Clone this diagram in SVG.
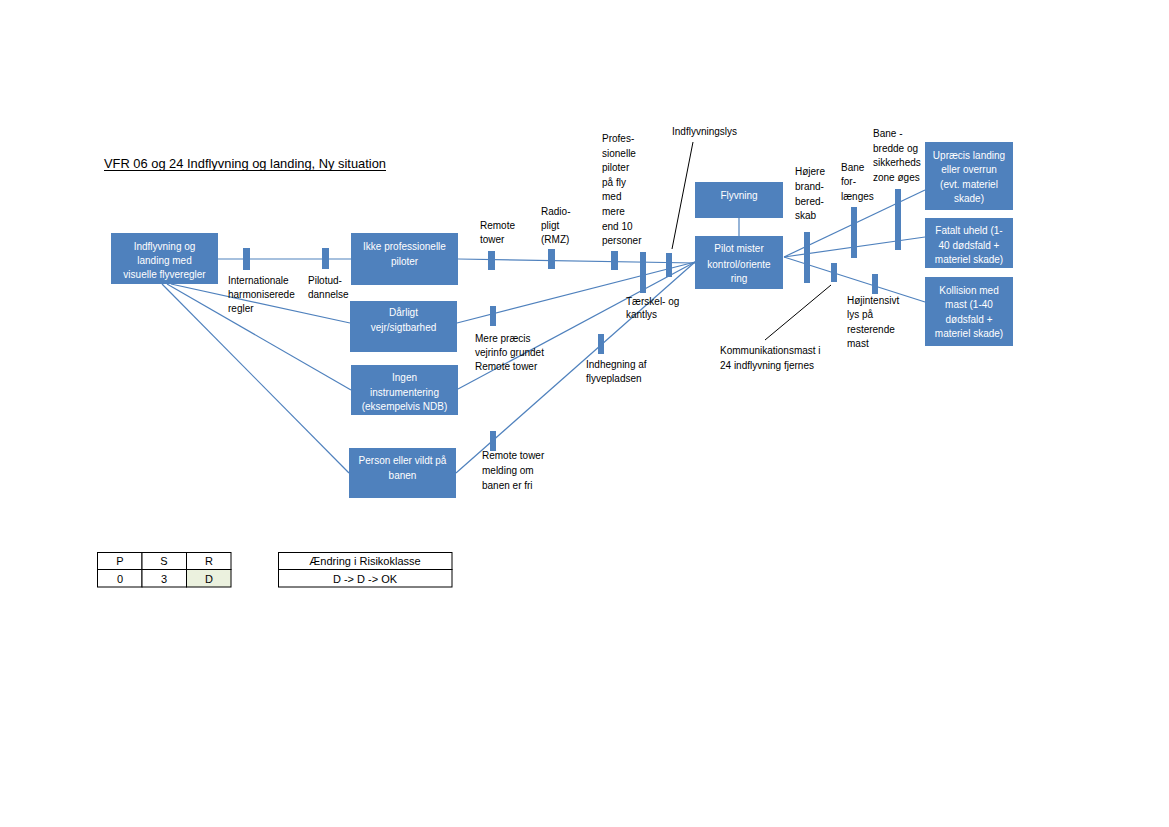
<svg xmlns="http://www.w3.org/2000/svg" width="1169" height="827" viewBox="0 0 1169 827">
<style>
.bg{fill:#ffffff}
.node rect{fill:#4F81BD;stroke:none}
.node text{fill:#ffffff;font-family:"Liberation Sans",Arial,sans-serif;font-size:10px;text-anchor:middle}
.lbl{fill:#000000;font-family:"Liberation Sans",Arial,sans-serif;font-size:10px}
.bar{fill:#4F81BD}
.ln{stroke:#4F81BD;stroke-width:1.2;fill:none}
.bk{stroke:#000000;stroke-width:1;fill:none}
.cell{fill:#ffffff;stroke:#000000;stroke-width:1}
.ct{fill:#000000;font-family:"Liberation Sans",Arial,sans-serif;font-size:11px;text-anchor:middle}
</style>
<rect class="bg" x="0" y="0" width="1169" height="827"/>
<text x="104" y="168" style="font-family:'Liberation Sans',Arial,sans-serif;font-size:13px;fill:#000" textLength="282" lengthAdjust="spacingAndGlyphs">VFR 06 og 24 Indflyvning og landing, Ny situation</text>
<line x1="104" y1="170.5" x2="386" y2="170.5" stroke="#000" stroke-width="1"/>

<g id="connectors">
<line class="ln" x1="218" y1="259" x2="351" y2="259"/>
<line class="ln" x1="458" y1="259" x2="695" y2="263"/>
<line class="ln" x1="171" y1="284" x2="350" y2="323"/>
<line class="ln" x1="167" y1="284" x2="351" y2="390"/>
<line class="ln" x1="162" y1="284" x2="349" y2="473"/>
<line class="ln" x1="457" y1="323" x2="695" y2="262"/>
<line class="ln" x1="458" y1="389" x2="695" y2="262"/>
<line class="ln" x1="456" y1="473" x2="695" y2="262"/>
<line class="ln" x1="739" y1="218" x2="739" y2="236"/>
<line class="ln" x1="784" y1="257" x2="925" y2="190"/>
<line class="ln" x1="784" y1="257" x2="925" y2="237"/>
<line class="ln" x1="784" y1="257" x2="925" y2="302"/>
<line class="bk" x1="693" y1="142" x2="672" y2="249"/>
<line class="bk" x1="831" y1="285" x2="765" y2="340"/>
</g>

<g id="bars">
<rect class="bar" x="243" y="248" width="7" height="22"/>
<rect class="bar" x="322" y="248" width="7" height="21"/>
<rect class="bar" x="488" y="251" width="7" height="19"/>
<rect class="bar" x="548" y="249" width="7" height="20"/>
<rect class="bar" x="611" y="251" width="7" height="19"/>
<rect class="bar" x="640" y="252" width="6" height="41"/>
<rect class="bar" x="666" y="253" width="6" height="24"/>
<rect class="bar" x="490" y="306" width="6" height="20"/>
<rect class="bar" x="598" y="334" width="6" height="20"/>
<rect class="bar" x="490" y="431" width="6" height="20"/>
<rect class="bar" x="804" y="232" width="6" height="51"/>
<rect class="bar" x="851" y="207" width="6" height="51"/>
<rect class="bar" x="895" y="189" width="6" height="61"/>
<rect class="bar" x="831" y="263" width="6" height="19"/>
<rect class="bar" x="872" y="274" width="6" height="20"/>
</g>

<g id="labels">
<text class="lbl" x="228"><tspan x="228" y="284">Internationale</tspan><tspan x="228" y="298">harmoniserede</tspan><tspan x="228" y="312">regler</tspan></text>
<text class="lbl"><tspan x="308" y="284">Pilotud-</tspan><tspan x="308" y="298">dannelse</tspan></text>
<text class="lbl"><tspan x="480" y="229">Remote</tspan><tspan x="480" y="243">tower</tspan></text>
<text class="lbl"><tspan x="541" y="215">Radio-</tspan><tspan x="541" y="229">pligt</tspan><tspan x="541" y="243">(RMZ)</tspan></text>
<text class="lbl"><tspan x="602" y="142">Profes-</tspan><tspan x="602" y="157">sionelle</tspan><tspan x="602" y="171">piloter</tspan><tspan x="602" y="186">på fly</tspan><tspan x="602" y="200">med</tspan><tspan x="602" y="215">mere</tspan><tspan x="602" y="230">end 10</tspan><tspan x="602" y="244">personer</tspan></text>
<text class="lbl" x="672" y="135">Indflyvningslys</text>
<text class="lbl"><tspan x="626" y="305">Tærskel- og</tspan><tspan x="626" y="318">kantlys</tspan></text>
<text class="lbl"><tspan x="475" y="342">Mere præcis</tspan><tspan x="475" y="356">vejrinfo grundet</tspan><tspan x="475" y="370">Remote tower</tspan></text>
<text class="lbl"><tspan x="586" y="368">Indhegning af</tspan><tspan x="586" y="382">flyvepladsen</tspan></text>
<text class="lbl"><tspan x="482" y="459">Remote tower</tspan><tspan x="482" y="474">melding om</tspan><tspan x="482" y="489">banen er fri</tspan></text>
<text class="lbl"><tspan x="795" y="175">Højere</tspan><tspan x="795" y="190">brand-</tspan><tspan x="795" y="205">bered-</tspan><tspan x="795" y="219">skab</tspan></text>
<text class="lbl"><tspan x="841" y="171">Bane</tspan><tspan x="841" y="185">for-</tspan><tspan x="841" y="200">længes</tspan></text>
<text class="lbl"><tspan x="873" y="137">Bane -</tspan><tspan x="873" y="152">bredde og</tspan><tspan x="873" y="166">sikkerheds</tspan><tspan x="873" y="181">zone  øges</tspan></text>
<text class="lbl"><tspan x="847" y="304">Højintensivt</tspan><tspan x="847" y="318">lys på</tspan><tspan x="847" y="333">resterende</tspan><tspan x="847" y="347">mast</tspan></text>
<text class="lbl"><tspan x="720" y="354">Kommunikationsmast i</tspan><tspan x="720" y="369">24 indflyvning fjernes</tspan></text>
</g>

<g id="n_start" class="node"><rect x="111" y="233" width="107" height="51"/><text><tspan x="164.5" y="249.5">Indflyvning og</tspan><tspan x="164.5" y="264">landing med</tspan><tspan x="164.5" y="278">visuelle flyveregler</tspan></text></g>
<g id="n_ikke" class="node"><rect x="351" y="233" width="107" height="52"/><text><tspan x="404.5" y="249.5">Ikke professionelle</tspan><tspan x="404.5" y="264.5">piloter</tspan></text></g>
<g id="n_vejr" class="node"><rect x="350" y="301" width="107" height="51"/><text><tspan x="403.5" y="315.5">Dårligt</tspan><tspan x="403.5" y="330.5">vejr/sigtbarhed</tspan></text></g>
<g id="n_instr" class="node"><rect x="351" y="365" width="107" height="50"/><text><tspan x="404.5" y="380.5">Ingen</tspan><tspan x="404.5" y="395.5">instrumentering</tspan><tspan x="404.5" y="409.5">(eksempelvis NDB)</tspan></text></g>
<g id="n_person" class="node"><rect x="349" y="448" width="107" height="50"/><text><tspan x="402.5" y="463.5">Person eller vildt på</tspan><tspan x="402.5" y="478.5">banen</tspan></text></g>
<g id="n_flyvning" class="node"><rect x="695" y="182" width="88" height="36"/><text x="739" y="198.5">Flyvning</text></g>
<g id="n_pilot" class="node"><rect x="695" y="236" width="88" height="53"/><text><tspan x="739" y="252">Pilot mister</tspan><tspan x="739" y="267.5">kontrol/oriente</tspan><tspan x="739" y="281.5">ring</tspan></text></g>
<g id="n_upraecis" class="node"><rect x="925" y="142" width="88" height="68"/><text><tspan x="969" y="158.5">Upræcis landing</tspan><tspan x="969" y="172.5">eller overrun</tspan><tspan x="969" y="187.5">(evt. materiel</tspan><tspan x="969" y="201.5">skade)</tspan></text></g>
<g id="n_fatalt" class="node"><rect x="925" y="218" width="88" height="50"/><text><tspan x="969" y="233.5">Fatalt uheld (1-</tspan><tspan x="969" y="248.5">40 dødsfald +</tspan><tspan x="969" y="262.5">materiel skade)</tspan></text></g>
<g id="n_kollision" class="node"><rect x="925" y="277" width="88" height="69"/><text><tspan x="969" y="293.5">Kollision med</tspan><tspan x="969" y="307.5">mast (1-40</tspan><tspan x="969" y="322.5">dødsfald +</tspan><tspan x="969" y="336.5">materiel skade)</tspan></text></g>

<g id="table_psr">
<rect class="cell" x="97.5" y="552.5" width="44.5" height="17"/>
<rect class="cell" x="142" y="552.5" width="44.5" height="17"/>
<rect class="cell" x="186.5" y="552.5" width="44.5" height="17"/>
<rect class="cell" x="97.5" y="569.5" width="44.5" height="17.5"/>
<rect class="cell" x="142" y="569.5" width="44.5" height="17.5"/>
<rect class="cell" x="186.5" y="569.5" width="44.5" height="17.5" style="fill:#EBF1DE"/>
<text class="ct" x="120" y="565">P</text>
<text class="ct" x="164" y="565">S</text>
<text class="ct" x="209" y="565">R</text>
<text class="ct" x="120" y="582.5">0</text>
<text class="ct" x="164" y="582.5">3</text>
<text class="ct" x="209" y="582.5">D</text>
</g>
<g id="table_risk">
<rect class="cell" x="278.5" y="552.5" width="173.5" height="17"/>
<rect class="cell" x="278.5" y="569.5" width="173.5" height="17.5"/>
<text class="ct" x="365" y="565">Ændring i Risikoklasse</text>
<text class="ct" x="365" y="582.5">D -&gt; D -&gt; OK</text>
</g>
</svg>
